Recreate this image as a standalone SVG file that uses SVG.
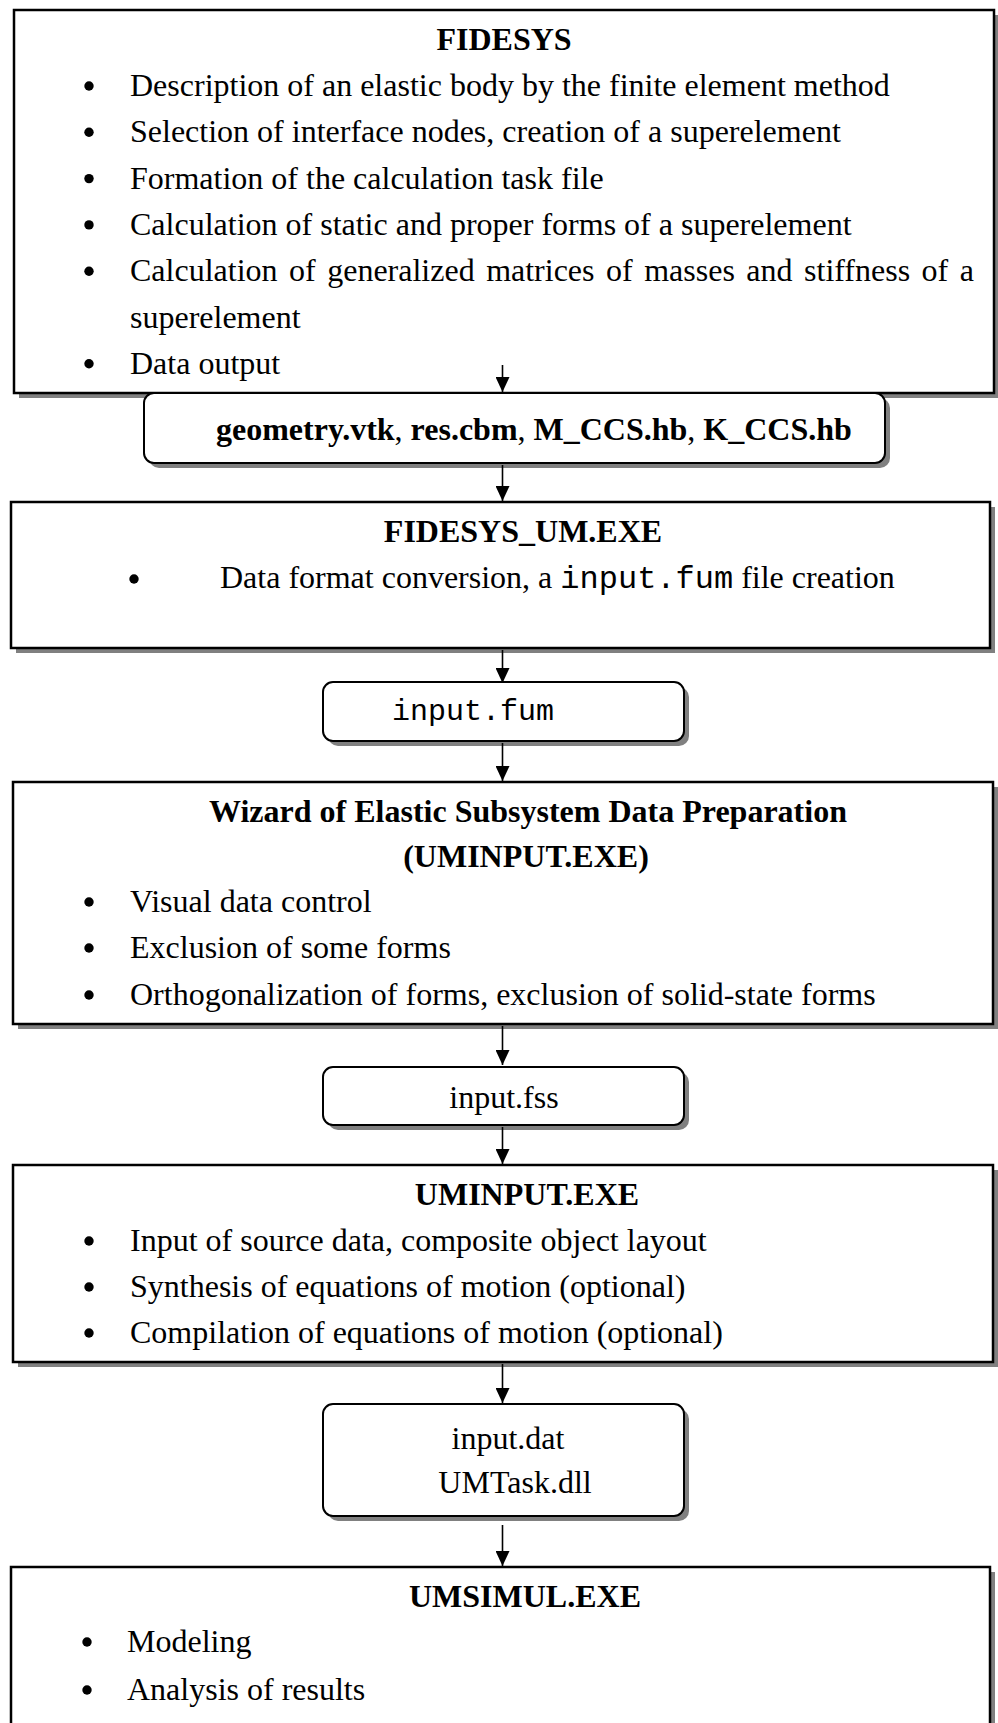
<svg xmlns="http://www.w3.org/2000/svg" width="998" height="1723" viewBox="0 0 998 1723">
  <style>
    .box { fill: #ffffff; stroke: #000000; stroke-width: 2.5; }
    .file { fill: #ffffff; stroke: #000000; stroke-width: 2; }
    .shadow { fill: #808080; stroke: none; }
    .title { font-family: "Liberation Serif", "Times New Roman", serif; font-size: 32px; font-weight: bold; fill: #000; text-anchor: middle; }
    .item { font-family: "Liberation Serif", "Times New Roman", serif; font-size: 32px; fill: #000; }
    .mid { text-anchor: middle; }
    .mono { font-family: "Liberation Mono", "Courier New", monospace; font-weight: normal; }
    .b { font-weight: bold; }
    .dot { fill: #000; }
    .conn { stroke: #000; stroke-width: 1.6; fill: none; marker-end: url(#head); }
  </style>
  <defs>
    <marker id="head" viewBox="0 0 15 14" refX="15" refY="7" markerWidth="15" markerHeight="14" markerUnits="userSpaceOnUse" orient="auto">
      <path d="M0,0 L15,7 L0,14 Z" fill="#000"/>
    </marker>
  </defs>

  <rect width="998" height="1723" fill="#ffffff"/>

  <!-- FIDESYS -->
  <g id="fidesys">
    <rect class="shadow" x="19" y="15" width="980" height="383"/>
    <rect class="box" x="14" y="10" width="980" height="383"/>
    <text class="title" x="504" y="50">FIDESYS</text>
    <circle class="dot" cx="89" cy="86" r="4.7"/>
    <text class="item" x="130" y="96">Description of an elastic body by the finite element method</text>
    <circle class="dot" cx="89" cy="132.3" r="4.7"/>
    <text class="item" x="130" y="142.3">Selection of interface nodes, creation of a superelement</text>
    <circle class="dot" cx="89" cy="178.6" r="4.7"/>
    <text class="item" x="130" y="188.6">Formation of the calculation task file</text>
    <circle class="dot" cx="89" cy="224.9" r="4.7"/>
    <text class="item" x="130" y="234.9">Calculation of static and proper forms of a superelement</text>
    <circle class="dot" cx="89" cy="271.2" r="4.7"/>
    <text class="item" x="130" y="281.2" word-spacing="3.5">Calculation of generalized matrices of masses and stiffness of a</text>
    <text class="item" x="130" y="327.5">superelement</text>
    <circle class="dot" cx="89" cy="363.8" r="4.7"/>
    <text class="item" x="130" y="373.8">Data output</text>
  </g>

  <!-- FE output files -->
  <g id="fe-files">
    <rect class="shadow" x="149" y="398" width="741" height="70" rx="10"/>
    <rect class="file" x="144" y="393" width="741" height="70" rx="10"/>
    <text class="item" x="216" y="440"><tspan class="b">geometry.vtk</tspan>, <tspan class="b">res.cbm</tspan>, <tspan class="b">M_CCS.hb</tspan>, <tspan class="b">K_CCS.hb</tspan></text>
  </g>

  <!-- FIDESYS_UM.EXE -->
  <g id="fidesys-um">
    <rect class="shadow" x="16" y="507" width="979" height="146"/>
    <rect class="box" x="11" y="502" width="979" height="146"/>
    <text class="title" x="523" y="542">FIDESYS_UM.EXE</text>
    <circle class="dot" cx="134" cy="579" r="4.7"/>
    <text class="item" x="220" y="588">Data format conversion, a <tspan class="mono">input.fum</tspan> file creation</text>
  </g>

  <!-- input.fum -->
  <g id="input-fum">
    <rect class="shadow" x="328" y="687" width="361" height="59" rx="10"/>
    <rect class="file" x="323" y="682" width="361" height="59" rx="10"/>
    <text class="item mono" x="392" y="720" style="font-size:30px">input.fum</text>
  </g>

  <!-- Wizard of Elastic Subsystem Data Preparation -->
  <g id="wizard">
    <rect class="shadow" x="18" y="787" width="980" height="242"/>
    <rect class="box" x="13" y="782" width="980" height="242"/>
    <text class="title" x="528" y="822">Wizard of Elastic Subsystem Data Preparation</text>
    <text class="title" x="526" y="867">(UMINPUT.EXE)</text>
    <circle class="dot" cx="89" cy="902" r="4.7"/>
    <text class="item" x="130" y="912">Visual data control</text>
    <circle class="dot" cx="89" cy="948" r="4.7"/>
    <text class="item" x="130" y="958">Exclusion of some forms</text>
    <circle class="dot" cx="89" cy="995" r="4.7"/>
    <text class="item" x="130" y="1005">Orthogonalization of forms, exclusion of solid-state forms</text>
  </g>

  <!-- input.fss -->
  <g id="input-fss">
    <rect class="shadow" x="328" y="1072" width="361" height="58" rx="10"/>
    <rect class="file" x="323" y="1067" width="361" height="58" rx="10"/>
    <text class="item mid" x="504" y="1108">input.fss</text>
  </g>

  <!-- UMINPUT.EXE -->
  <g id="uminput">
    <rect class="shadow" x="18" y="1170" width="980" height="197"/>
    <rect class="box" x="13" y="1165" width="980" height="197"/>
    <text class="title" x="527" y="1205">UMINPUT.EXE</text>
    <circle class="dot" cx="89" cy="1241" r="4.7"/>
    <text class="item" x="130" y="1251">Input of source data, composite object layout</text>
    <circle class="dot" cx="89" cy="1287" r="4.7"/>
    <text class="item" x="130" y="1297">Synthesis of equations of motion (optional)</text>
    <circle class="dot" cx="89" cy="1333" r="4.7"/>
    <text class="item" x="130" y="1343">Compilation of equations of motion (optional)</text>
  </g>

  <!-- input.dat / UMTask.dll -->
  <g id="input-dat">
    <rect class="shadow" x="328" y="1409" width="361" height="112" rx="10"/>
    <rect class="file" x="323" y="1404" width="361" height="112" rx="10"/>
    <text class="item mid" x="508" y="1449">input.dat</text>
    <text class="item mid" x="515" y="1493">UMTask.dll</text>
  </g>

  <!-- UMSIMUL.EXE -->
  <g id="umsimul">
    <rect class="shadow" x="16" y="1572" width="979" height="200"/>
    <rect class="box" x="11" y="1567" width="979" height="200"/>
    <text class="title" x="525" y="1607">UMSIMUL.EXE</text>
    <circle class="dot" cx="87" cy="1642" r="4.7"/>
    <text class="item" x="127" y="1652">Modeling</text>
    <circle class="dot" cx="87" cy="1690" r="4.7"/>
    <text class="item" x="127" y="1700">Analysis of results</text>
  </g>

  <!-- Connectors -->
  <g id="connectors">
    <line class="conn" x1="502.5" y1="365" x2="502.5" y2="392"/>
    <line class="conn" x1="502.5" y1="465" x2="502.5" y2="501"/>
    <line class="conn" x1="502.5" y1="650" x2="502.5" y2="683"/>
    <line class="conn" x1="502.5" y1="743" x2="502.5" y2="781"/>
    <line class="conn" x1="502.5" y1="1026" x2="502.5" y2="1065"/>
    <line class="conn" x1="502.5" y1="1127" x2="502.5" y2="1164"/>
    <line class="conn" x1="502.5" y1="1364" x2="502.5" y2="1403"/>
    <line class="conn" x1="502.5" y1="1525" x2="502.5" y2="1566"/>
  </g>
</svg>
